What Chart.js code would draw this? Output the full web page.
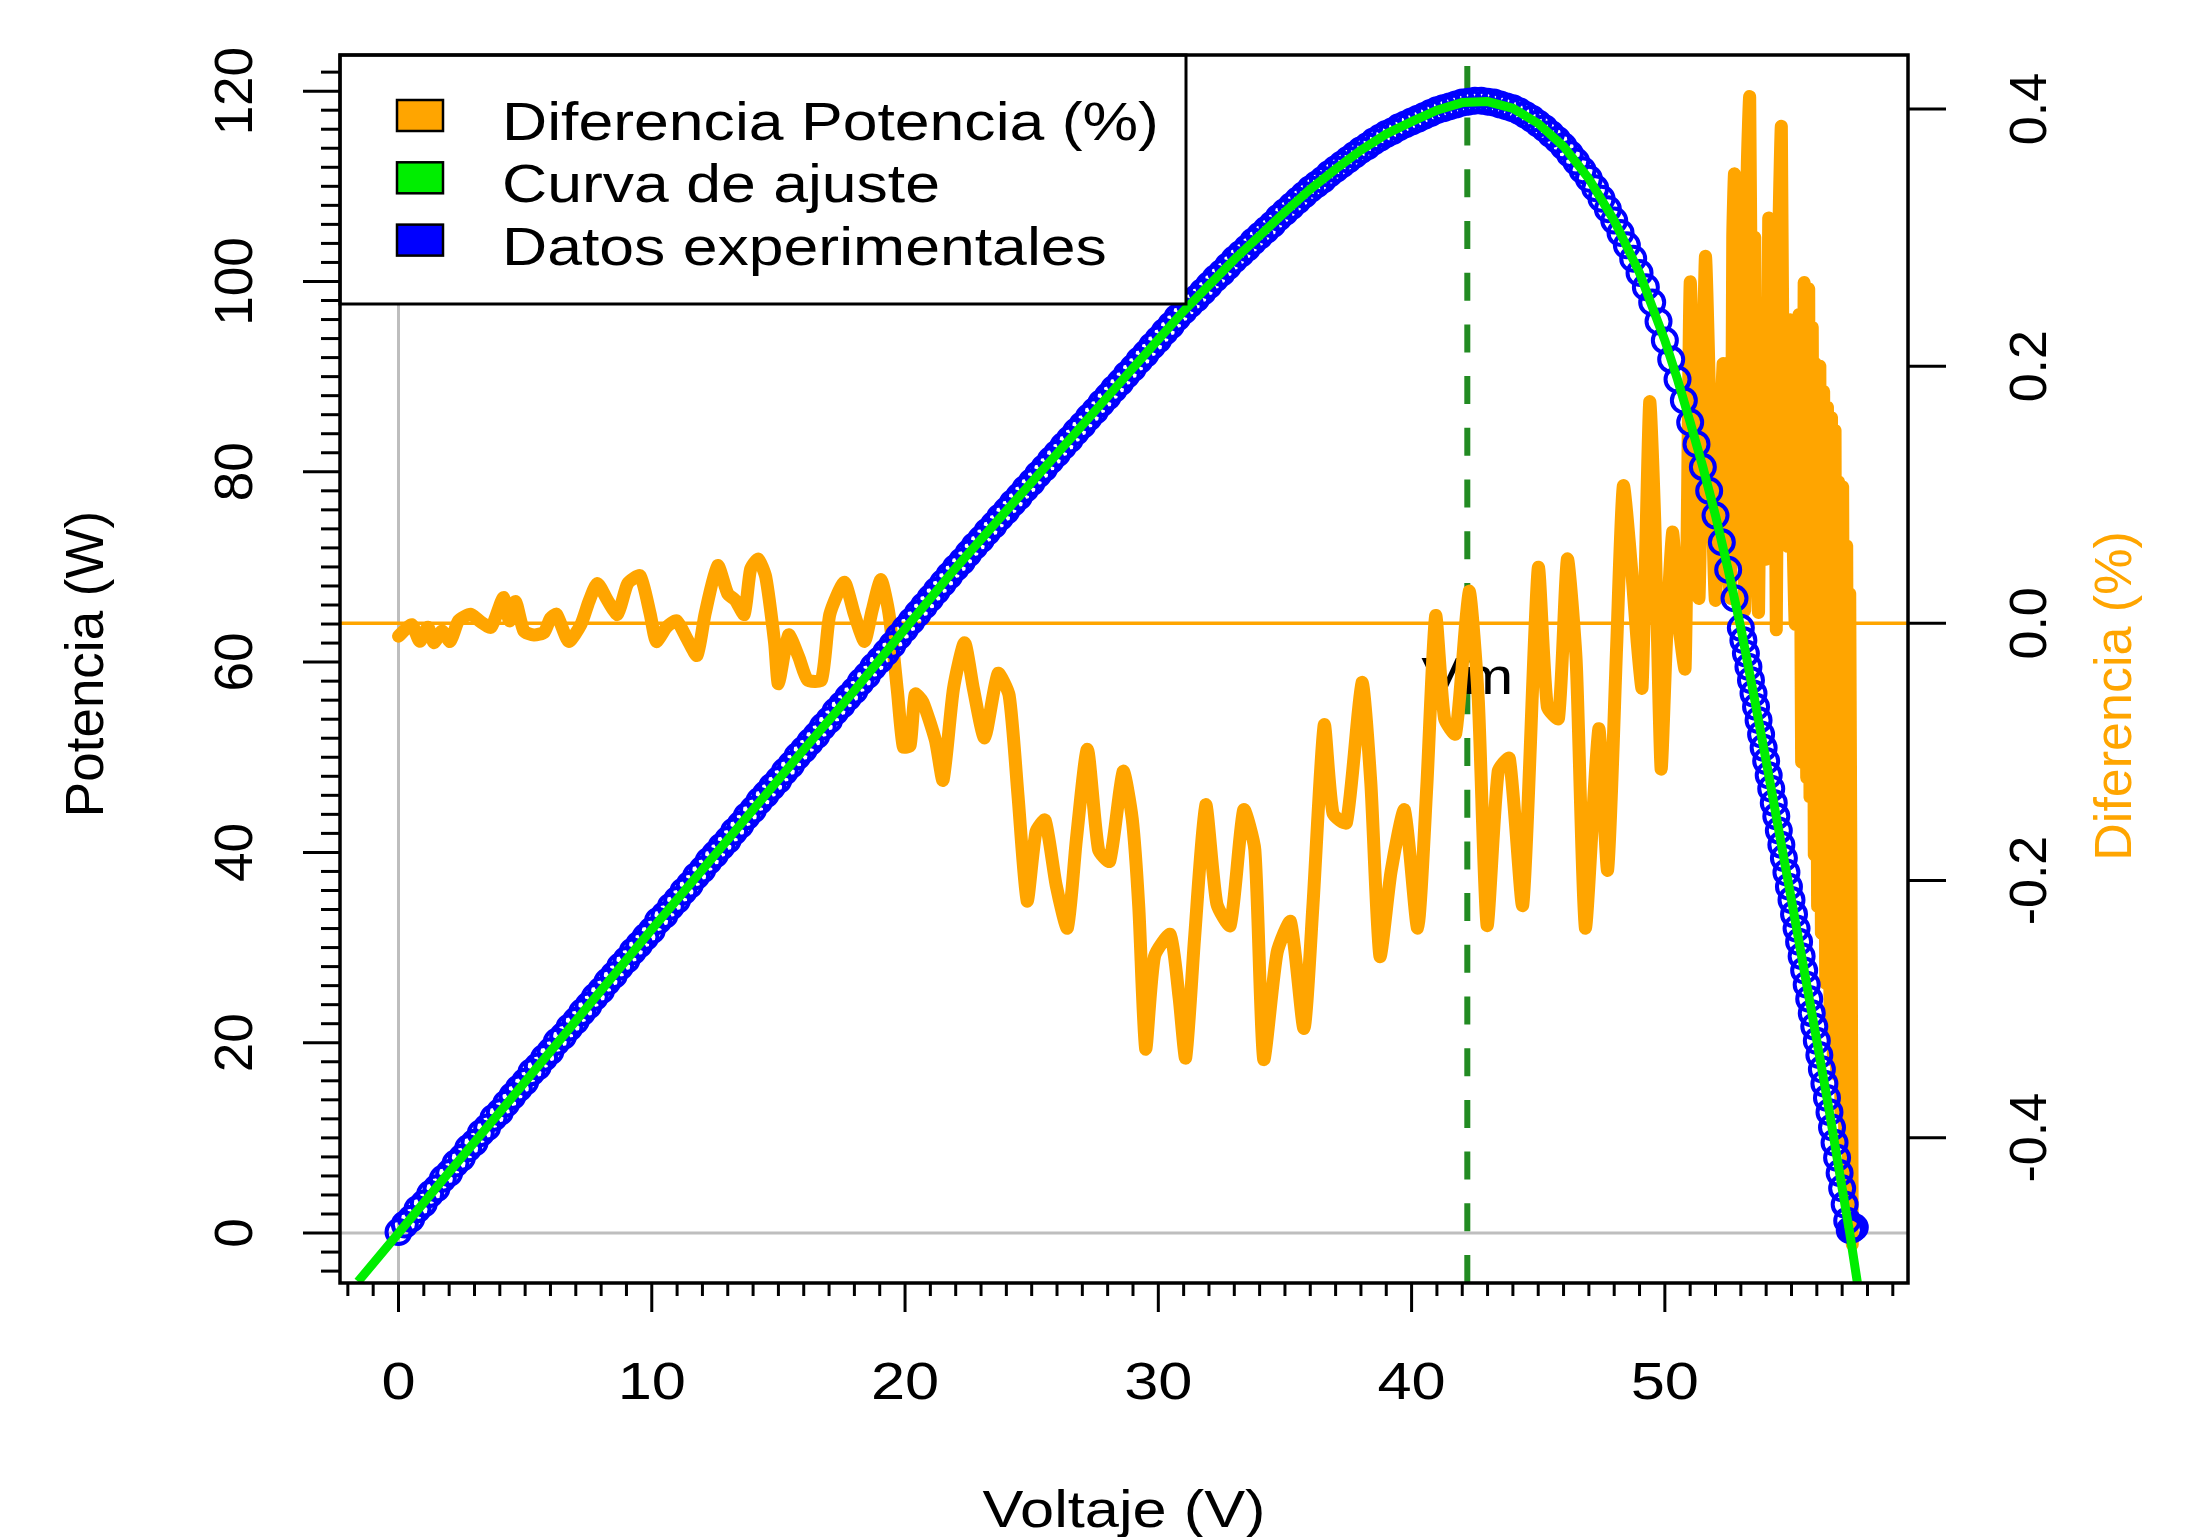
<!DOCTYPE html>
<html>
<head>
<meta charset="utf-8">
<script src="https://cdn.jsdelivr.net/npm/chart.js@4.4.1/dist/chart.umd.min.js"></script>
<style>
html, body { margin: 0; padding: 0; background: #fff; }
#wrap { width: 2192px; height: 1537px; }
</style>
</head>
<body>
<div id="wrap"><canvas id="pvChart"></canvas></div>
<script>
// measured P-V points (blue circles)
const measV = [
  0,0.25,0.5,0.75,1,1.25,1.5,1.75, 2,2.25,2.5,2.75,3,3.25,3.5,3.75,
  4,4.25,4.5,4.75,5,5.25,5.5,5.75, 6,6.25,6.5,6.75,7,7.25,7.5,7.75,
  8,8.25,8.5,8.75,9,9.25,9.5,9.75, 10,10.25,10.5,10.75,11,11.25,11.5,11.75,
  12,12.25,12.5,12.75,13,13.25,13.5,13.75, 14,14.25,14.5,14.75,15,15.25,15.5,15.75,
  16,16.25,16.5,16.75,17,17.25,17.5,17.75, 18,18.25,18.5,18.75,19,19.25,19.5,19.75,
  20,20.25,20.5,20.75,21,21.25,21.5,21.75, 22,22.25,22.5,22.75,23,23.25,23.5,23.75,
  24,24.25,24.5,24.75,25,25.25,25.5,25.75, 26,26.25,26.5,26.75,27,27.25,27.5,27.75,
  28,28.25,28.5,28.75,29,29.25,29.5,29.75, 30,30.25,30.5,30.75,31,31.25,31.5,31.75,
  32,32.25,32.5,32.75,33,33.25,33.5,33.75, 34,34.25,34.5,34.75,35,35.25,35.5,35.75,
  36,36.25,36.5,36.75,37,37.25,37.5,37.75, 38,38.25,38.5,38.75,39,39.25,39.5,39.75,
  40,40.25,40.5,40.75,41,41.25,41.5,41.75, 42,42.25,42.5,42.75,43,43.25,43.5,43.75,
  44,44.25,44.5,44.75,45,45.25,45.5,45.75, 46,46.25,46.5,46.75,47,47.25,47.5,47.75,
  48,48.25,48.5,48.75,49,49.25,49.5,49.75, 50,50.25,50.5,50.75,51,51.25,51.5,51.75,
  52,52.25,52.5,52.75,53,
  53.1,53.2,53.3,53.4,53.5,53.6,53.7,53.8,53.9,
  54,54.1,54.2,54.3,54.4,54.5,54.6,54.7,54.8,54.9,
  55,55.1,55.2,55.3,55.4,55.5,55.6,55.7,55.8,55.9,
  56,56.1,56.2,56.3,56.4,56.5,56.6,56.7,56.8,56.9,
  57,57.1,57.2,57.3,57.4,57.5
];
const measP = [
  0.1,0.9,1.5,2.5,3.1,4.1,4.7,5.7, 6.3,7.3,7.9,8.9,9.5,10.5,11.1,12.1,
  12.7,13.6,14.4,15.2,15.9,16.9,17.5,18.4, 19.1,20.1,20.7,21.6,22.3,23.2,23.9,24.8,
  25.5,26.4,27.1,28.0,28.7,29.6,30.3,31.1, 31.8,32.8,33.4,34.3,35.0,35.9,36.6,37.5,
  38.2,39.1,39.8,40.6,41.3,42.2,42.9,43.8, 44.5,45.4,46.1,46.9,47.6,48.5,49.2,50.1,
  50.8,51.6,52.3,53.2,53.9,54.8,55.5,56.3, 57.0,57.9,58.6,59.5,60.2,61.0,61.8,62.7,
  63.5,64.3,65.1,65.9,66.7,67.5,68.3,69.1, 69.9,70.6,71.4,72.2,72.9,73.7,74.4,75.2,
  75.9,76.7,77.4,78.2,78.9,79.7,80.4,81.2, 81.9,82.7,83.4,84.2,84.9,85.7,86.4,87.2,
  87.9,88.7,89.4,90.2,90.9,91.7,92.4,93.2, 93.9,94.7,95.4,96.2,96.9,97.6,98.2,98.9,
  99.6,100.3,100.9,101.6,102.3,102.9,103.5,104.2, 104.8,105.4,106.0,106.7,107.3,107.9,108.5,109.1,
  109.7,110.2,110.7,111.3,111.8,112.3,112.8,113.3, 113.8,114.2,114.7,115.1,115.5,115.8,116.2,116.5,
  116.8,117.1,117.4,117.7,118.0,118.2,118.4,118.6, 118.8,118.9,119.0,119.0,118.9,118.8,118.6,118.4,
  118.2,117.9,117.5,117.1,116.6,116.1,115.5,114.9, 114.2,113.4,112.6,111.7,110.8,109.8,108.7,107.6,
  106.4,105.1,103.8,102.4,100.9,99.4,97.8,95.8, 93.8,91.8,89.7,87.5,85.2,82.9,80.5,78.0,
  75.4,72.6,69.7,66.7,63.6,
  62.3,60.9,59.5,58.1,56.7,55.3,53.9,52.4,51.0,
  49.6,48.1,46.7,45.2,43.8,42.3,40.8,39.4,37.9,36.4,
  35.0,33.5,32.0,30.6,29.1,27.6,26.1,24.6,23.1,21.7,
  20.2,18.7,17.2,15.7,14.2,12.7,11.1,9.5,7.9,6.3,
  4.7,3.0,1.3,0.3,0.4,0.6
];

// fitted curve (green)
const fitV = [-1.6,0,2,4,6,8,10,12,14,16,18,20,22,24,26,28,30,31,32,33,34,35,36,37,38,39,40,41,42,43,44,45,46,47,48,49,50,50.5,51,51.5,52,52.5,53,53.5,54,54.5,55,55.5,56,56.5,57,57.3,57.6];
const fitP = [-5.1,0,6.4,12.7,19.1,25.5,31.9,38.2,44.5,50.8,57.0,63.5,69.9,75.9,81.9,87.9,93.9,96.9,99.6,102.3,104.8,107.3,109.7,111.8,113.8,115.5,116.8,118.0,118.8,118.9,118.2,116.6,114.2,110.8,106.4,100.9,93.8,89.7,85.2,80.5,75.4,69.7,63.6,56.7,49.6,42.3,35.0,27.6,20.2,12.7,4.7,0.0,-5.2];

// power difference in % (orange, right axis)
const diffV = [
  0,0.52,0.84,1.16,1.4,1.72,2.04,2.37,2.85,3.25,3.66,4.14,4.38,4.62,4.95,5.35,5.75,6.0,6.24,6.72,
  7.2,7.52,7.85,8.25,8.65,9.05,9.54,9.94,10.18,10.58,10.98,11.39,11.79,12.1,12.6,13.0,13.3,13.65,13.9,14.2,
  14.5,14.85,15.0,15.4,15.8,16.15,16.7,17.03,17.6,18.0,18.4,18.7,19.05,19.37,19.7,19.93,20.2,20.4,20.7,21.2,
  21.5,21.91,22.35,22.7,23.14,23.67,24.11,24.46,24.82,25.17,25.53,25.97,26.41,26.76,27.2,27.64,28.08,28.61,28.97,29.23,
  29.5,29.85,30.47,30.82,31.08,31.43,31.87,32.31,32.84,33.37,33.81,34.16,34.69,35.22,35.75,36.1,36.55,36.9,37.43,38.04,
  38.39,38.75,39.19,39.72,40.24,40.6,40.95,41.3,41.74,42.27,42.63,42.98,43.42,43.86,44.39,45.0,45.36,45.8,46.15,46.5,
  46.86,47.39,47.74,48.1,48.36,48.7,48.9,49.1,49.4,49.6,49.85,50.05,50.3,50.55,50.8,51.0,51.2,51.35,51.6,51.8,
  52.0,52.3,52.45,52.6,52.68,52.75,52.82,52.9,53.0,53.08,53.15,53.25,53.35,53.45,53.55,53.62,53.7,53.8,53.9,54.0,
  54.1,54.18,54.25,54.32,54.4,54.5,54.6,54.68,54.75,54.85,54.95,55.05,55.15,55.3,55.4,55.5,55.6,55.68,55.73,55.82,
  55.9,55.95,56.03,56.12,56.18,56.27,56.35,56.42,56.52,56.58,56.65,56.72,56.78,56.86,56.95,57.02,57.1,57.18,57.25,57.3,
  57.4
];
const diffPct = [
  -0.010,-0.001,-0.014,-0.003,-0.015,-0.006,-0.014,0.002,0.007,0.001,-0.003,0.020,0.002,0.017,-0.006,-0.009,-0.007,0.004,0.007,-0.014,
  -0.001,0.017,0.031,0.018,0.007,0.031,0.037,0.007,-0.014,-0.003,0.002,-0.012,-0.025,0.007,0.045,0.023,0.018,0.007,0.042,0.050,
  0.036,-0.015,-0.047,-0.009,-0.026,-0.044,-0.044,0.007,0.032,0.007,-0.014,0.010,0.034,0.007,-0.053,-0.096,-0.095,-0.055,-0.061,-0.091,
  -0.122,-0.051,-0.015,-0.051,-0.089,-0.039,-0.056,-0.134,-0.216,-0.162,-0.153,-0.204,-0.237,-0.169,-0.098,-0.176,-0.185,-0.115,-0.152,-0.221,
  -0.331,-0.259,-0.242,-0.291,-0.338,-0.245,-0.141,-0.218,-0.235,-0.145,-0.176,-0.339,-0.256,-0.232,-0.315,-0.221,-0.079,-0.148,-0.155,-0.046,
  -0.124,-0.259,-0.193,-0.145,-0.237,-0.127,0.006,-0.074,-0.086,0.025,-0.058,-0.235,-0.115,-0.105,-0.219,0.043,-0.065,-0.074,0.050,-0.030,
  -0.237,-0.082,-0.192,-0.016,0.107,0.039,-0.013,-0.050,0.172,0.080,-0.113,-0.020,0.071,0.000,-0.035,0.265,0.120,0.020,0.285,0.150,
  0.018,0.202,0.060,0.020,0.300,0.349,0.100,0.300,0.050,0.280,0.010,0.350,0.409,0.150,0.300,0.050,0.009,0.200,0.240,0.050,
  0.315,0.150,0.100,0.250,-0.005,0.300,0.386,0.150,0.200,0.060,0.236,0.080,0.000,0.240,-0.108,0.265,-0.120,0.260,-0.135,0.230,
  -0.180,0.202,-0.220,0.200,-0.241,0.180,-0.280,0.168,-0.305,0.160,-0.340,0.150,-0.351,0.110,-0.380,0.106,-0.404,0.060,-0.440,0.023,
  -0.483
];

// axis ticks
const xTicks = [0, 10, 20, 30, 40, 50];
const yTicks = [0, 20, 40, 60, 80, 100, 120];
const y2Ticks = [-0.4, -0.2, 0, 0.2, 0.4];
const y2TickLabels = ['-0.4', '-0.2', '0.0', '0.2', '0.4'];

// voltage at maximum power
const vmpVoltage = 42.2;
const vmpLabel = 'Vm';
const vmpLabelPower = 56.6;

const FONT = '"Liberation Sans", Arial, sans-serif';
const STRETCH = 1.18;

function hText(ctx, str, x, y, size, color, align) {
    ctx.save();
    ctx.translate(x, y);
    ctx.scale(STRETCH, 1);
    ctx.font = size + 'px ' + FONT;
    ctx.fillStyle = color;
    ctx.textAlign = align;
    ctx.textBaseline = 'alphabetic';
    ctx.fillText(str, 0, 0);
    ctx.restore();
}

function vText(ctx, str, x, y, size, color) {
    ctx.save();
    ctx.translate(x, y);
    ctx.rotate(-Math.PI / 2);
    ctx.font = size + 'px ' + FONT;
    ctx.fillStyle = color;
    ctx.textAlign = 'center';
    ctx.textBaseline = 'alphabetic';
    ctx.fillText(str, 0, 0);
    ctx.restore();
}

function seg(ctx, x1, y1, x2, y2) {
    ctx.beginPath();
    ctx.moveTo(x1, y1);
    ctx.lineTo(x2, y2);
    ctx.stroke();
}

const decorations = {
    id: 'decorations',
    beforeDatasetsDraw(chart) {
        const {ctx, chartArea: a, scales: {x, y, y2}} = chart;
        ctx.save();
        ctx.beginPath();
        ctx.rect(a.left, a.top, a.right - a.left, a.bottom - a.top);
        ctx.clip();

        // reference lines at V = 0 and P = 0
        ctx.strokeStyle = '#bebebe';
        ctx.lineWidth = 3;
        const x0 = x.getPixelForValue(0);
        seg(ctx, x0, a.top, x0, a.bottom);
        const p0 = y.getPixelForValue(0);
        seg(ctx, a.left, p0, a.right, p0);

        // zero of the difference axis
        ctx.strokeStyle = '#ffa500';
        ctx.lineWidth = 3.5;
        const d0 = y2.getPixelForValue(0);
        seg(ctx, a.left, d0, a.right, d0);

        // Vmp marker
        const xv = x.getPixelForValue(vmpVoltage);
        ctx.strokeStyle = '#228b22';
        ctx.lineWidth = 6;
        ctx.setLineDash([28, 23.7]);
        seg(ctx, xv, a.bottom, xv, a.top);
        ctx.setLineDash([]);
        hText(ctx, vmpLabel, xv, y.getPixelForValue(vmpLabelPower), 52, '#000', 'center');
        ctx.restore();
    },
    afterDraw(chart) {
        const {ctx, chartArea: a, scales: {x, y, y2}} = chart;
        ctx.save();

        // legend
        const lg = {left: a.left, top: a.top, right: a.left + 846, bottom: a.top + 249};
        ctx.fillStyle = '#fff';
        ctx.fillRect(lg.left, lg.top, lg.right - lg.left, lg.bottom - lg.top);
        ctx.strokeStyle = '#000';
        ctx.lineWidth = 3;
        ctx.strokeRect(lg.left, lg.top, lg.right - lg.left, lg.bottom - lg.top);
        chart.data.datasets.forEach((ds, i) => {
            const top = a.top + 45 + i * 62.3;
            ctx.fillStyle = ds.legendColor;
            ctx.fillRect(a.left + 57, top, 46, 31);
            ctx.lineWidth = 2.5;
            ctx.strokeStyle = '#000';
            ctx.strokeRect(a.left + 57, top, 46, 31);
            hText(ctx, ds.label, a.left + 162, top + 40, 53, '#000', 'left');
        });

        // plot frame
        ctx.strokeStyle = '#000';
        ctx.lineWidth = 3.5;
        ctx.strokeRect(a.left, a.top, a.right - a.left, a.bottom - a.top);

        // bottom axis
        ctx.lineWidth = 3;
        for (let v = -2; v <= 59; v++) {
            const px = x.getPixelForValue(v);
            const len = xTicks.includes(v) ? 29 : 13;
            seg(ctx, px, a.bottom, px, a.bottom + len);
        }
        xTicks.forEach(v => hText(ctx, String(v), x.getPixelForValue(v), a.bottom + 116, 52, '#000', 'center'));
        hText(ctx, 'Voltaje (V)', (a.left + a.right) / 2, a.bottom + 244, 52, '#000', 'center');

        // left axis
        for (let v = -4; v <= 122; v += 2) {
            const py = y.getPixelForValue(v);
            const len = yTicks.includes(v) ? 37 : 19;
            seg(ctx, a.left, py, a.left - len, py);
        }
        yTicks.forEach(v => vText(ctx, String(v), a.left - 88, y.getPixelForValue(v), 53, '#000'));
        vText(ctx, 'Potencia (W)', a.left - 237, (a.top + a.bottom) / 2 - 5, 53, '#000');

        // right axis
        y2Ticks.forEach((v, i) => {
            const py = y2.getPixelForValue(v);
            seg(ctx, a.right, py, a.right + 38, py);
            vText(ctx, y2TickLabels[i], a.right + 138, py, 52, '#000');
        });
        vText(ctx, 'Diferencia (%)', a.right + 223, 696, 52, '#ffa500');

        ctx.restore();
    }
};

const pvChart = new Chart(document.getElementById('pvChart'), {
    type: 'scatter',
    data: {
        datasets: [{
            label: 'Diferencia Potencia (%)',
            data: diffV.map((v, i) => ({x: v, y: diffPct[i]})),
            yAxisID: 'y2',
            showLine: true,
            borderColor: '#ffa500',
            legendColor: '#ffa500',
            borderWidth: 13,
            borderJoinStyle: 'round',
            borderCapStyle: 'round',
            tension: 0.2,
            pointRadius: 0,
            clip: 0,
            order: 3
        }, {
            label: 'Curva de ajuste',
            data: fitV.map((v, i) => ({x: v, y: fitP[i]})),
            yAxisID: 'y',
            showLine: true,
            borderColor: '#00ee00',
            legendColor: '#00ee00',
            borderWidth: 9,
            pointRadius: 0,
            clip: 0,
            order: 1
        }, {
            label: 'Datos experimentales',
            data: measV.map((v, i) => ({x: v, y: measP[i]})),
            yAxisID: 'y',
            showLine: false,
            pointRadius: 12,
            pointBorderWidth: 4,
            pointBackgroundColor: 'rgba(0,0,0,0)',
            pointBorderColor: '#0000ff',
            legendColor: '#0000ff',
            clip: 0,
            order: 2
        }]
    },
    options: {
        responsive: true,
        maintainAspectRatio: false,
        animation: false,
        devicePixelRatio: 1,
        events: [],
        layout: { padding: { top: 55, left: 0, right: 0, bottom: 0 } },
        plugins: {
            legend: { display: false },
            tooltip: { enabled: false }
        },
        scales: {
            x: {
                type: 'linear', min: -2.31, max: 59.6,
                grid: { display: false }, border: { display: false },
                ticks: { display: false },
                afterFit: s => { s.height = 254; }
            },
            y: {
                type: 'linear', position: 'left', min: -5.25, max: 123.8,
                grid: { display: false }, border: { display: false },
                ticks: { display: false },
                afterFit: s => { s.width = 340; }
            },
            y2: {
                type: 'linear', position: 'right', min: -0.513, max: 0.442,
                grid: { display: false }, border: { display: false },
                ticks: { display: false },
                afterFit: s => { s.width = 284; }
            }
        }
    },
    plugins: [decorations]
});
</script>
</body>
</html>
